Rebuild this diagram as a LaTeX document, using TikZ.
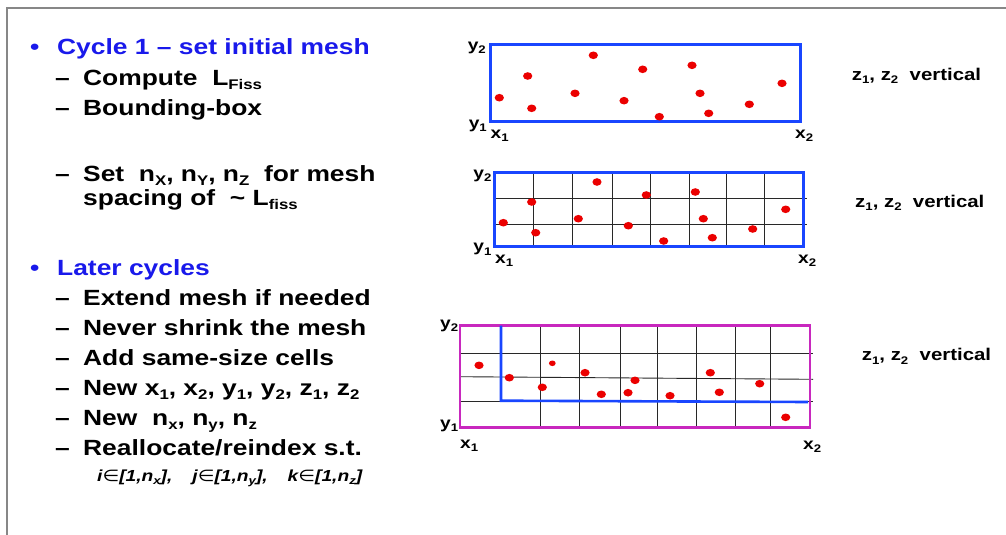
\documentclass[tikz,border=0pt]{standalone}
\usepackage{fontspec}
\setmainfont{Liberation Sans}[FakeStretch=1.2]
\newfontfamily\dejavu{DejaVu Sans}[FakeStretch=1.2]
\definecolor{txtblue}{RGB}{25,25,235}
\definecolor{boxblue}{RGB}{25,70,255}
\definecolor{magbox}{RGB}{200,40,190}
\definecolor{dotred}{RGB}{235,0,0}
\definecolor{framegray}{RGB}{135,135,135}
\definecolor{gridc}{RGB}{40,40,40}
\newcommand{\sbs}[1]{\raisebox{-0.2em}{\fontsize{14}{14}\selectfont #1}}
\newcommand{\ssb}[1]{\raisebox{-0.2em}{\fontsize{11}{11}\selectfont #1}}
\newcommand{\dsh}{\makebox[28pt][l]{–}}
\newcommand{\bul}{\makebox[27pt][l]{•}}
\begin{document}
\begin{tikzpicture}[x=1pt,y=-1pt,
  main/.style={anchor=base west, inner sep=0, font=\fontsize{22}{24}\selectfont\bfseries},
  head/.style={main, text=txtblue},
  lab/.style={inner sep=0, font=\fontsize{16}{18}\selectfont\bfseries},
  zlab/.style={inner sep=0, font=\fontsize{17}{18}\selectfont\bfseries, anchor=mid west},
  gridline/.style={draw=gridc, line width=0.9pt},
  bluebox/.style={draw=boxblue, line width=3pt},
  magentabox/.style={draw=magbox, line width=2.6pt},
  rdot/.style={fill=dotred}]
\useasboundingbox (0,0) rectangle (1006,535);
\fill[white] (0,0) rectangle (1006,535);
% frame
\draw[framegray, line width=2pt] (7,536) -- (7,8.5) -- (1007,8.5);

% left text
\node[head] (c1) at (30,55) {\bul Cycle 1 – set initial mesh};
\node[main] (t1) at (55,85) {\dsh Compute\ \ L\sbs{Fiss}};
\node[main] (t2) at (55,115) {\dsh Bounding-box};
\node[main] (t3) at (55,181.5) {\dsh Set\ \ n\sbs{X}, n\sbs{Y}, n\sbs{Z}\ \ for mesh};
\node[main] (t4) at (83,205) {spacing of\ \ \textasciitilde\ L\sbs{fiss}};
\node[head] (c2) at (30,275) {\bul Later cycles};
\node[main] (t5) at (55,305) {\dsh Extend mesh if needed};
\node[main] (t6) at (55,335) {\dsh Never shrink the mesh};
\node[main] (t7) at (55,365) {\dsh Add same-size cells};
\node[main] (t8) at (55,395) {\dsh New x\sbs{1}, x\sbs{2}, y\sbs{1}, y\sbs{2}, z\sbs{1}, z\sbs{2}};
\node[main] (t9) at (55,425) {\dsh New\ \ n\sbs{x}, n\sbs{y}, n\sbs{z}};
\node[main] (t10) at (55,455) {\dsh Reallocate/reindex s.t.};
\node[anchor=base west, inner sep=0, font=\fontsize{16}{17}\selectfont\bfseries\itshape] (t11) at (97,481.5)
  {i{\dejavu\mdseries ∈}[1,n\ssb{x}],\hspace{20pt}j{\dejavu\mdseries ∈}[1,n\ssb{y}],\hspace{20pt}k{\dejavu\mdseries ∈}[1,n\ssb{z}]};

% box 1
\draw[bluebox] (490.7,45) rectangle (800,121);
\foreach \x/\y in {499.3/97.7,527.7/76,531.7/108.3,593.3/55.3,575/93.3,624/100.7,642.7/69.3,659.3/116.7,692/65.3,700/93.3,708.7/113.3,749.3/104.3,782/83.3}
  \fill[rdot] (\x,\y) ellipse [x radius=4.6pt, y radius=3.8pt];
\node[lab, anchor=mid east] (b1y2) at (486,47.5) {y\ssb{2}};
\node[lab, anchor=mid east] (b1y1) at (487,125.7) {y\ssb{1}};
\node[lab, anchor=mid west] (b1x1) at (490.5,135.7) {x\ssb{1}};
\node[lab, anchor=mid west] (b1x2) at (795,135.7) {x\ssb{2}};
\node[zlab] (z1) at (851.7,77.5) {z\ssb{1}, z\ssb{2}\ \ vertical};

% box 2
\foreach \x in {533.3,572.3,612.3,650.3,689.3,726.7,764}
  \draw[gridline] (\x,172.3) -- (\x,246);
\draw[gridline] (494.3,198.3) -- (806.7,198.3);
\draw[gridline] (494.3,224.3) -- (806.7,224.3);
\draw[bluebox] (494.3,172.3) rectangle (803.3,246);
\foreach \x/\y in {503.3/222.7,531.7/202,535.7/232.7,597/182,578.3/218.7,628.3/225.7,646.3/195,663.7/241,695.3/192,703.3/218.7,712.3/237.7,752.7/229,785.7/209.3}
  \fill[rdot] (\x,\y) ellipse [x radius=4.6pt, y radius=3.8pt];
\node[lab, anchor=mid east] (b2y2) at (491.7,176) {y\ssb{2}};
\node[lab, anchor=mid east] (b2y1) at (491.7,249.3) {y\ssb{1}};
\node[lab, anchor=mid west] (b2x1) at (495,261) {x\ssb{1}};
\node[lab, anchor=mid west] (b2x2) at (798,261) {x\ssb{2}};
\node[zlab] (z2) at (855,204.5) {z\ssb{1}, z\ssb{2}\ \ vertical};

% box 3
\foreach \x in {540.7,579.3,620,657.3,696,735,770.7}
  \draw[gridline] (\x,325.7) -- (\x,427.7);
\draw[gridline] (460,353.3) -- (813,353.3);
\draw[gridline] (460,376.7) -- (813,379.3);
\draw[gridline] (460,401.7) -- (813,401.7);
\draw[magentabox] (460,325.7) rectangle (810,427.7);
\draw[draw=boxblue, line width=2.6pt] (501,325.7) -- (501,400.7) -- (808,402);
\foreach \x/\y in {479/365.3,509.3/377.7,542.3/387.3,585/372.7,601.3/394.3,628/392.7,635/380.3,670/395.7,710.3/372.7,719.3/392.3,759.7/383.7,785.7/417.3}
  \fill[rdot] (\x,\y) ellipse [x radius=4.6pt, y radius=3.8pt];
\fill[rdot] (552.3,363.3) ellipse [x radius=3.4pt, y radius=2.8pt];
\node[lab, anchor=mid east] (b3y2) at (458.3,325.7) {y\ssb{2}};
\node[lab, anchor=mid east] (b3y1) at (458.3,426) {y\ssb{1}};
\node[lab, anchor=mid west] (b3x1) at (460,445.7) {x\ssb{1}};
\node[lab, anchor=mid west] (b3x2) at (803,446.7) {x\ssb{2}};
\node[zlab] (z3) at (861.7,358) {z\ssb{1}, z\ssb{2}\ \ vertical};
\end{tikzpicture}
\end{document}
